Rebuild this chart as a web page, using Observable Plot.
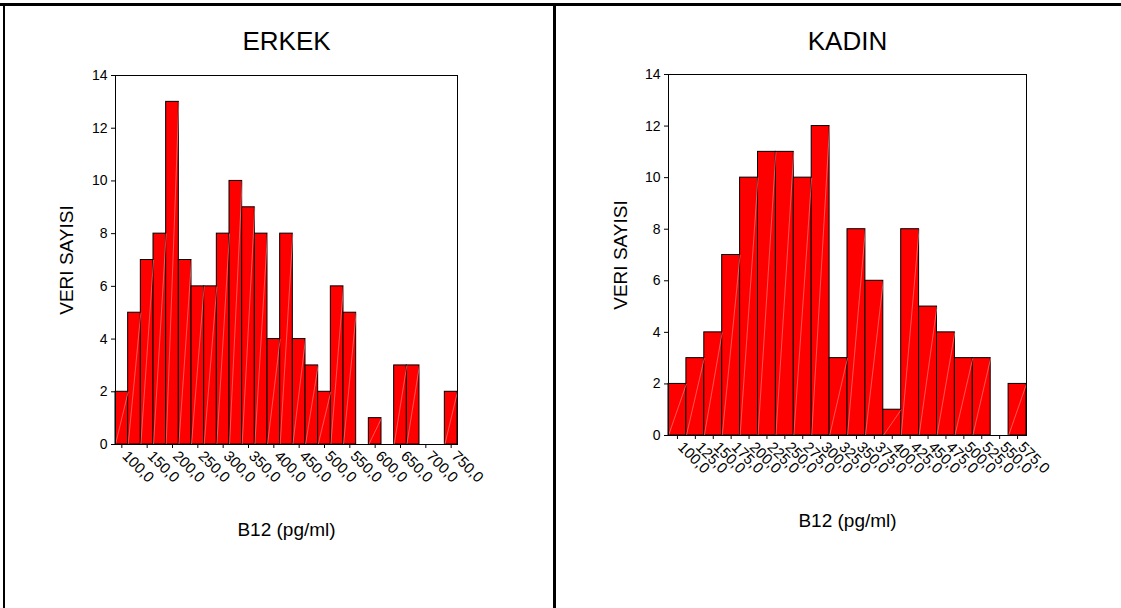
<!DOCTYPE html>
<html>
<head>
<meta charset="utf-8">
<script src="https://cdn.jsdelivr.net/npm/d3@7"></script>
<script src="https://cdn.jsdelivr.net/npm/@observablehq/plot@0.6"></script>
<style>
  html, body { margin: 0; padding: 0; background: #fff; }
  #wrap { position: relative; width: 1121px; height: 608px; overflow: hidden; background: #fff; font-family: Arial, "Liberation Sans", sans-serif; }
  .line { position: absolute; background: #000; }
  .panel { position: absolute; top: 0; }
</style>
</head>
<body>
<div id="wrap">
  <div class="panel" id="left" style="left:0px"></div>
  <div class="panel" id="right" style="left:555px"></div>
  <div class="line" style="left:0; top:3px; width:1121px; height:2.5px"></div>
  <div class="line" style="left:2.5px; top:3px; width:2px; height:605px"></div>
  <div class="line" style="left:553px; top:3px; width:2.5px; height:605px"></div>
</div>
<script>
// ERKEK (male) histogram: bin centers and counts
const maleBins = [100,125,150,175,200,225,250,275,300,325,350,375,400,425,450,475,500,525,550,575,600,625,650,675,700,725,750];
const maleCounts = [2,5,7,8,13,7,6,6,8,10,9,8,4,8,4,3,2,6,5,0,1,0,3,3,0,0,2];
const maleTicks = [100,150,200,250,300,350,400,450,500,550,600,650,700,750];

// KADIN (female) histogram: bin centers and counts
const femaleBins = [100,125,150,175,200,225,250,275,300,325,350,375,400,425,450,475,500,525,550,575];
const femaleCounts = [2,3,4,7,10,11,11,10,12,3,8,6,1,8,5,4,3,3,0,2];
const femaleTicks = [100,125,150,175,200,225,250,275,300,325,350,375,400,425,450,475,500,525,550,575];

const yTicks = [0,2,4,6,8,10,12,14];
const binWidth = 25;
const titles = ["ERKEK", "KADIN"];
const xLabel = "B12 (pg/ml)";
const yLabel = "VERI SAYISI";

const fmt = d => d.toFixed(1).replace(".", ",");

function histogram({bins, counts, ticks, title, width, mLeft, mRight, mTop, mBottom, titleDy, xLabDy, yLabDx}) {
  const data = bins.map((c, i) => ({c, n: counts[i]})).filter(d => d.n > 0);
  const half = binWidth / 2;
  return Plot.plot({
    width, height: 608,
    marginLeft: mLeft, marginRight: mRight, marginTop: mTop, marginBottom: mBottom,
    style: {fontFamily: 'Arial, "Liberation Sans", sans-serif', fontSize: "14px", color: "#000", background: "transparent", overflow: "visible"},
    x: {domain: [bins[0] - half, bins[bins.length - 1] + half]},
    y: {domain: [0, 14]},
    marks: [
      Plot.rectY(data, {x1: d => d.c - half, x2: d => d.c + half, y: "n", fill: "#ff0000", stroke: "#000", strokeWidth: 1}),
      Plot.link(data, {x1: d => d.c - half, y1: 0, x2: d => d.c + half, y2: "n", stroke: "#ff9090", strokeWidth: 0.6}),
      Plot.frame({stroke: "#000", strokeWidth: 1}),
      Plot.axisY({ticks: yTicks, tickSize: 4, tickPadding: 4, label: null, fontSize: 14}),
      Plot.axisX({ticks, tickSize: 4, tickFormat: () => "", label: null}),
      Plot.axisX({ticks, tickSize: 0, tickPadding: 9, tickFormat: fmt, tickRotate: 45, label: null, fontSize: 15, dx: 3}),
      Plot.text([title], {text: d => d, frameAnchor: "top", dy: titleDy, textAnchor: "middle", lineAnchor: "middle", fontSize: 26}),
      Plot.text([xLabel], {text: d => d, frameAnchor: "bottom", dy: xLabDy, textAnchor: "middle", lineAnchor: "middle", fontSize: 19}),
      Plot.text([yLabel], {text: d => d, frameAnchor: "left", dx: yLabDx, rotate: -90, textAnchor: "middle", lineAnchor: "middle", fontSize: 19})
    ]
  });
}

document.getElementById("left").append(histogram({
  bins: maleBins, counts: maleCounts, ticks: maleTicks, title: titles[0],
  width: 555, mLeft: 115, mRight: 98, mTop: 75, mBottom: 164,
  titleDy: -34, xLabDy: 85, yLabDx: -49
}));
document.getElementById("right").append(histogram({
  bins: femaleBins, counts: femaleCounts, ticks: femaleTicks, title: titles[1],
  width: 566, mLeft: 113, mRight: 95, mTop: 74, mBottom: 173,
  titleDy: -33, xLabDy: 85, yLabDx: -48
}));
</script>
</body>
</html>
